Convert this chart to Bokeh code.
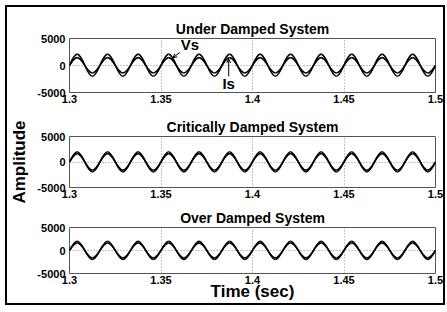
from bokeh.plotting import figure
from bokeh.models import Range1d, FixedTicker, Label, Arrow, OpenHead, ColumnDataSource
from bokeh.layouts import column
from bokeh.embed import file_html
from bokeh.resources import INLINE

# ---- data (extrema of the 60 Hz waveforms) ----
time_s = [1.3, 1.3042, 1.3125, 1.3208, 1.3292, 1.3375, 1.3458, 1.3542, 1.3625,
          1.3708, 1.3792, 1.3875, 1.3958, 1.4042, 1.4125, 1.4208, 1.4292, 1.4375,
          1.4458, 1.4542, 1.4625, 1.4708, 1.4792, 1.4875, 1.4958, 1.5]

under_vs = [0, 2100, -2000, 2100, -2000, 2100, -2000, 2100, -2000, 2100, -2000, 2100, -2000,
            2100, -2000, 2100, -2000, 2100, -2000, 2100, -2000, 2100, -2000, 2100, -2000, 0]
under_is = [0, 1450, -1400, 1450, -1400, 1450, -1400, 1450, -1400, 1450, -1400, 1450, -1400,
            1450, -1400, 1450, -1400, 1450, -1400, 1450, -1400, 1450, -1400, 1450, -1400, 0]
crit_vs = [0, 2000, -1950, 2000, -1950, 2000, -1950, 2000, -1950, 2000, -1950, 2000, -1950,
           2000, -1950, 2000, -1950, 2000, -1950, 2000, -1950, 2000, -1950, 2000, -1950, 0]
crit_is = [0, 1650, -1600, 1650, -1600, 1650, -1600, 1650, -1600, 1650, -1600, 1650, -1600,
           1650, -1600, 1650, -1600, 1650, -1600, 1650, -1600, 1650, -1600, 1650, -1600, 0]
over_vs = [0, 2000, -1950, 2000, -1950, 2000, -1950, 2000, -1950, 2000, -1950, 2000, -1950,
           2000, -1950, 2000, -1950, 2000, -1950, 2000, -1950, 2000, -1950, 2000, -1950, 0]
over_is = [0, 1650, -1600, 1650, -1600, 1650, -1600, 1650, -1600, 1650, -1600, 1650, -1600,
           1650, -1600, 1650, -1600, 1650, -1600, 1650, -1600, 1650, -1600, 1650, -1600, 0]

titles = ["Under Damped System", "Critically Damped System", "Over Damped System"]
x_ticks = [1.3, 1.35, 1.4, 1.45, 1.5]
x_tick_labels = ["1.3", "1.35", "1.4", "1.45", "1.5"]
y_ticks = [-5000, 0, 5000]
y_tick_labels = ["-5000", "0", "5000"]

FONT = "Liberation Sans"
A = 1 - 2 / 3.141592653589793


def smooth_segments(T, Y):
    """Cubic Bezier segments through the extrema (smooth curve drawing)."""
    n = len(T)
    seg = dict(x0=[], y0=[], x1=[], y1=[], cx0=[], cy0=[], cx1=[], cy1=[])
    for i in range(n - 1):
        t0, t1, y0, y1 = T[i], T[i + 1], Y[i], Y[i + 1]
        dt = t1 - t0
        if i == 0:
            c = (t0 + 0.3183 * dt, y0 + 0.5 * (y1 - y0), t0 + 0.6366 * dt, y1)
        elif i == n - 2:
            c = (t0 + 0.3634 * dt, y0, t0 + 0.6817 * dt, y1 + 0.5 * (y0 - y1))
        else:
            c = (t0 + A * dt, y0, t1 - A * dt, y1)
        seg["x0"].append(t0); seg["y0"].append(y0)
        seg["x1"].append(t1); seg["y1"].append(y1)
        seg["cx0"].append(c[0]); seg["cy0"].append(c[1])
        seg["cx1"].append(c[2]); seg["cy1"].append(c[3])
    return seg


def make_panel(title, vs, is_, h, top, bottom, xlabel=None, ylabel=None):
    p = figure(width=436, height=h, x_range=Range1d(1.3, 1.5), y_range=Range1d(-5000, 5000),
               output_backend="svg", toolbar_location=None,
               min_border_left=60, min_border_right=8, min_border_top=top, min_border_bottom=bottom,
               background_fill_color="white", border_fill_color="white",
               outline_line_color="#555555", outline_line_width=1)
    p.title.text = title
    p.title.align = "center"
    p.title.text_font = FONT
    p.title.text_font_size = "14px"
    p.title.text_font_style = "bold"
    p.title.text_color = "black"
    p.title.standoff = 4

    for ax in (p.xaxis[0], p.yaxis[0]):
        ax.axis_line_color = None
        ax.major_tick_line_color = None
        ax.minor_tick_line_color = None
        ax.major_tick_out = 0
        ax.major_tick_in = 0
        ax.major_label_text_font = FONT
        ax.major_label_text_font_size = "11px"
        ax.major_label_text_font_style = "bold"
        ax.major_label_text_color = "black"
        ax.axis_label_text_font = FONT
        ax.axis_label_text_font_size = "17px"
        ax.axis_label_text_font_style = "bold"
        ax.axis_label_text_color = "black"
    p.xaxis.ticker = FixedTicker(ticks=x_ticks)
    p.xaxis.major_label_overrides = dict(zip(x_ticks, x_tick_labels))
    p.xaxis.major_label_standoff = 2
    p.yaxis.ticker = FixedTicker(ticks=y_ticks)
    p.yaxis.major_label_overrides = dict(zip(y_ticks, y_tick_labels))
    p.yaxis.major_label_standoff = 4
    if xlabel:
        p.xaxis.axis_label = xlabel
        p.xaxis.axis_label_standoff = -5
    if ylabel:
        p.yaxis.axis_label = ylabel
        p.yaxis.axis_label_standoff = 5

    p.xgrid.ticker = FixedTicker(ticks=[1.35, 1.4, 1.45])
    p.ygrid.ticker = FixedTicker(ticks=[0])
    for g in (p.xgrid[0], p.ygrid[0]):
        g.grid_line_color = "#8a8a8a"
        g.grid_line_dash = "1 2"
        g.grid_line_width = 1

    for series in (vs, is_):
        src = ColumnDataSource(smooth_segments(time_s, series))
        p.bezier(x0="x0", y0="y0", x1="x1", y1="y1", cx0="cx0", cy0="cy0", cx1="cx1", cy1="cy1",
                 source=src, line_color="black", line_width=1.6)
    return p


p1 = make_panel(titles[0], under_vs, under_is, 101, 31, 16)
p2 = make_panel(titles[1], crit_vs, crit_is, 96, 28, 17, ylabel="Amplitude")
p3 = make_panel(titles[2], over_vs, over_is, 99, 23, 26, xlabel="Time (sec)")

# annotations in the first panel
p1.add_layout(Label(x=1.3658, y=3900, text="Vs", text_align="center", text_baseline="middle",
                    text_font=FONT, text_font_size="15px", text_font_style="bold", text_color="black"))
p1.add_layout(Arrow(end=OpenHead(size=4, line_width=1, line_color="black"),
                    x_start=1.3603, y_start=2400, x_end=1.3565, y_end=1450,
                    line_color="black", line_width=1))
p1.add_layout(Label(x=1.3870, y=-3400, text="Is", text_align="center", text_baseline="middle",
                    text_font=FONT, text_font_size="15px", text_font_style="bold", text_color="black"))
p1.add_layout(Arrow(end=OpenHead(size=4, line_width=1, line_color="black"),
                    x_start=1.3870, y_start=-2000, x_end=1.3870, y_end=1200,
                    line_color="black", line_width=1))

layout = column(p1, p2, p3, spacing=0,
                styles={"border": "2px solid black", "background": "white", "margin": "5px 0 0 5px"})

open("out.html", "w").write(file_html(layout, INLINE))
